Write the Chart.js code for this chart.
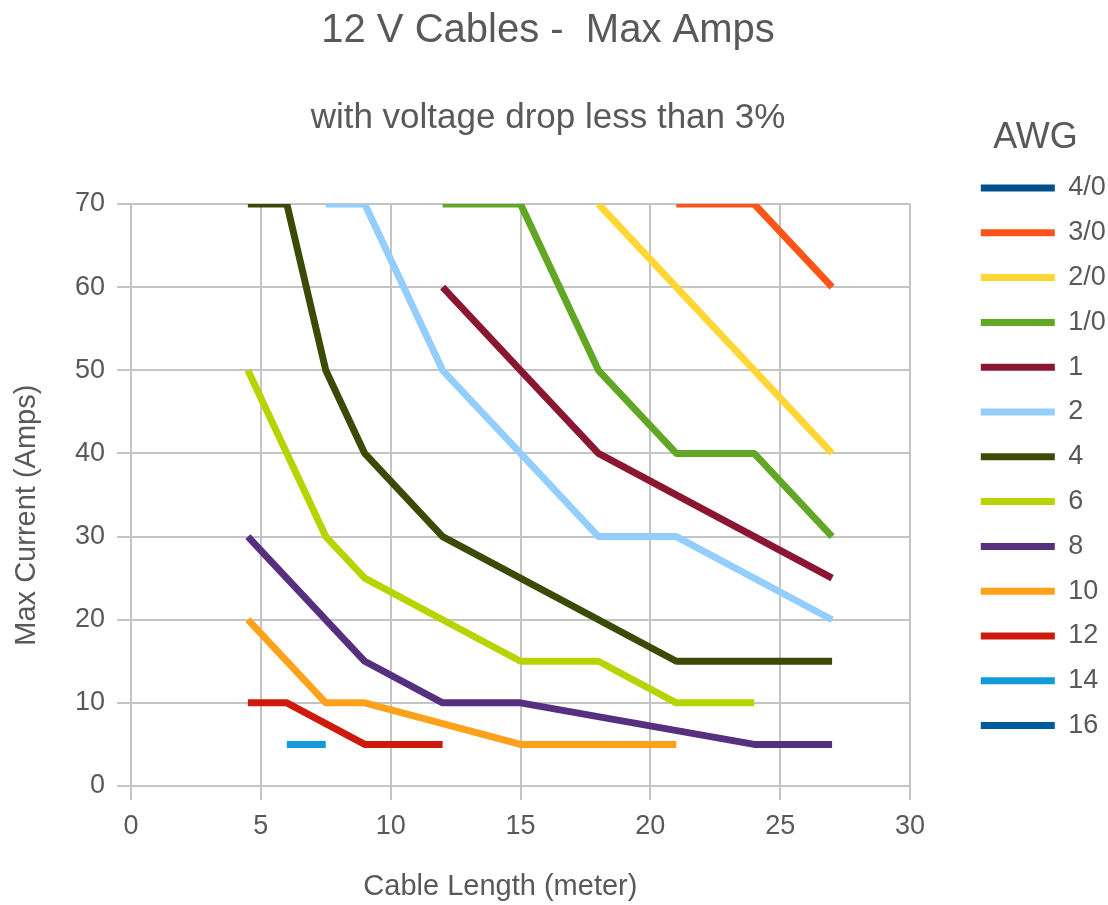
<!DOCTYPE html>
<html>
<head>
<meta charset="utf-8">
<script src="https://cdn.jsdelivr.net/npm/chart.js@4"></script>
<style>
html,body{margin:0;padding:0;background:#ffffff;}
#wrap{width:1108px;height:905px;position:relative;}
</style>
</head>
<body>
<div id="wrap"><canvas id="c"></canvas></div>
<script>
// ---- data ----
const AWG = ['4/0','3/0','2/0','1/0','1','2','4','6','8','10','12','14','16'];
const COLORS = ['#00508f','#ff5419','#ffd633','#62a626','#8a1632','#93ceff','#3b4b06','#b8d400','#56307f','#ffa11a','#cd1a0c','#139ad9','#00599a'];

const LEN_4_0 = [];                          const AMP_4_0 = [];
const LEN_3_0 = [21, 24, 27];                const AMP_3_0 = [70, 70, 60];
const LEN_2_0 = [18, 27];                    const AMP_2_0 = [70, 40];
const LEN_1_0 = [12, 15, 18, 21, 24, 27];    const AMP_1_0 = [70, 70, 50, 40, 40, 30];
const LEN_1   = [12, 15, 18, 27];            const AMP_1   = [60, 50, 40, 25];
const LEN_2   = [7.5, 9, 12, 15, 18, 21, 27];const AMP_2   = [70, 70, 50, 40, 30, 30, 20];
const LEN_4   = [4.5, 6, 7.5, 9, 12, 21, 24, 27]; const AMP_4 = [70, 70, 50, 40, 30, 15, 15, 15];
const LEN_6   = [4.5, 7.5, 9, 12, 15, 18, 21, 24]; const AMP_6 = [50, 30, 25, 20, 15, 15, 10, 10];
const LEN_8   = [4.5, 9, 12, 15, 24, 27];    const AMP_8   = [30, 15, 10, 10, 5, 5];
const LEN_10  = [4.5, 7.5, 9, 15, 18, 21];   const AMP_10  = [20, 10, 10, 5, 5, 5];
const LEN_12  = [4.5, 6, 9, 12];             const AMP_12  = [10, 10, 5, 5];
const LEN_14  = [6, 7.5];                    const AMP_14  = [5, 5];
const LEN_16  = [];                          const AMP_16  = [];

const X_TICKS = [0, 5, 10, 15, 20, 25, 30];
const Y_TICKS = [0, 10, 20, 30, 40, 50, 60, 70];

const SERIES_LEN = [LEN_4_0, LEN_3_0, LEN_2_0, LEN_1_0, LEN_1, LEN_2, LEN_4, LEN_6, LEN_8, LEN_10, LEN_12, LEN_14, LEN_16];
const SERIES_AMP = [AMP_4_0, AMP_3_0, AMP_2_0, AMP_1_0, AMP_1, AMP_2, AMP_4, AMP_6, AMP_8, AMP_10, AMP_12, AMP_14, AMP_16];

// ---- chart ----
const TXT = '#595959';
const GRID = '#c4c4c4';
Chart.defaults.font.family = "'Liberation Sans', Arial, sans-serif";
Chart.defaults.color = TXT;

const datasets = AWG.map((name, i) => ({
  label: name,
  data: SERIES_LEN[i].map((x, j) => ({ x: x, y: SERIES_AMP[i][j] })),
  borderColor: COLORS[i],
  backgroundColor: COLORS[i],
  borderWidth: 7,
  pointRadius: 0,
  pointHoverRadius: 0,
  tension: 0,
  borderCapStyle: 'butt',
  borderJoinStyle: 'round',
  fill: false
}));

const legendPlace = {
  id: 'legendPlace',
  afterLayout(chart) {
    const lg = chart.legend;
    if (!lg) return;
    lg.left = 963; lg.width = 145; lg.right = 1108;
    lg.top = 120; lg.height = 785; lg.bottom = 905;
  }
};

new Chart(document.getElementById('c'), {
  type: 'line',
  data: { datasets: datasets },
  plugins: [legendPlace],
  options: {
    responsive: true,
    maintainAspectRatio: false,
    animation: false,
    layout: { padding: { left: 0, right: 12, top: 0, bottom: 0 } },
    scales: {
      x: {
        type: 'linear',
        min: 0, max: 30,
        afterFit(scale) { scale.paddingRight = 198; },
        afterBuildTicks(scale) { scale.ticks = X_TICKS.map(v => ({ value: v })); },
        ticks: { font: { size: 27 }, color: TXT, padding: 10 },
        grid: { color: GRID, lineWidth: 2, tickLength: 14 },
        border: { display: true, color: GRID, width: 2 },
        title: { display: true, text: 'Cable Length (meter)     ', color: TXT, font: { size: 29 }, padding: { top: 17.2, bottom: 0.6 } }
      },
      y: {
        type: 'linear',
        min: 0, max: 70,
        afterBuildTicks(scale) { scale.ticks = Y_TICKS.map(v => ({ value: v })); },
        ticks: { font: { size: 27 }, color: TXT, padding: 12 },
        grid: { color: GRID, lineWidth: 2, tickLength: 14 },
        border: { display: true, color: GRID, width: 2 },
        title: { display: true, text: 'Max Current (Amps)     ', color: TXT, font: { size: 29 }, padding: { top: 9.6, bottom: 18.6 } }
      }
    },
    plugins: {
      title: { display: true, text: '12 V Cables -  Max Amps', color: TXT, font: { size: 40, weight: 'normal' }, padding: { top: 7, bottom: 0 } },
      subtitle: { display: true, text: 'with voltage drop less than 3%', color: TXT, font: { size: 35, weight: 'normal' }, padding: { top: 42.6, bottom: 64.4 } },
      legend: {
        display: true,
        position: 'right',
        align: 'start',
        maxWidth: 143,
        title: { display: true, text: 'AWG', color: TXT, position: 'center', font: { size: 36, lineHeight: 1 }, padding: { top: 0, bottom: 0.7 } },
        labels: {
          boxWidth: 74,
          boxHeight: 7,
          padding: 17.8,
          color: TXT,
          font: { size: 27 },
          generateLabels(chart) {
            return chart.data.datasets.map((ds, i) => ({
              text: ds.label,
              fillStyle: ds.borderColor,
              strokeStyle: ds.borderColor,
              lineWidth: 0,
              hidden: false,
              datasetIndex: i,
              fontColor: TXT
            }));
          }
        }
      },
      tooltip: { enabled: false }
    }
  }
});
</script>
</body>
</html>
